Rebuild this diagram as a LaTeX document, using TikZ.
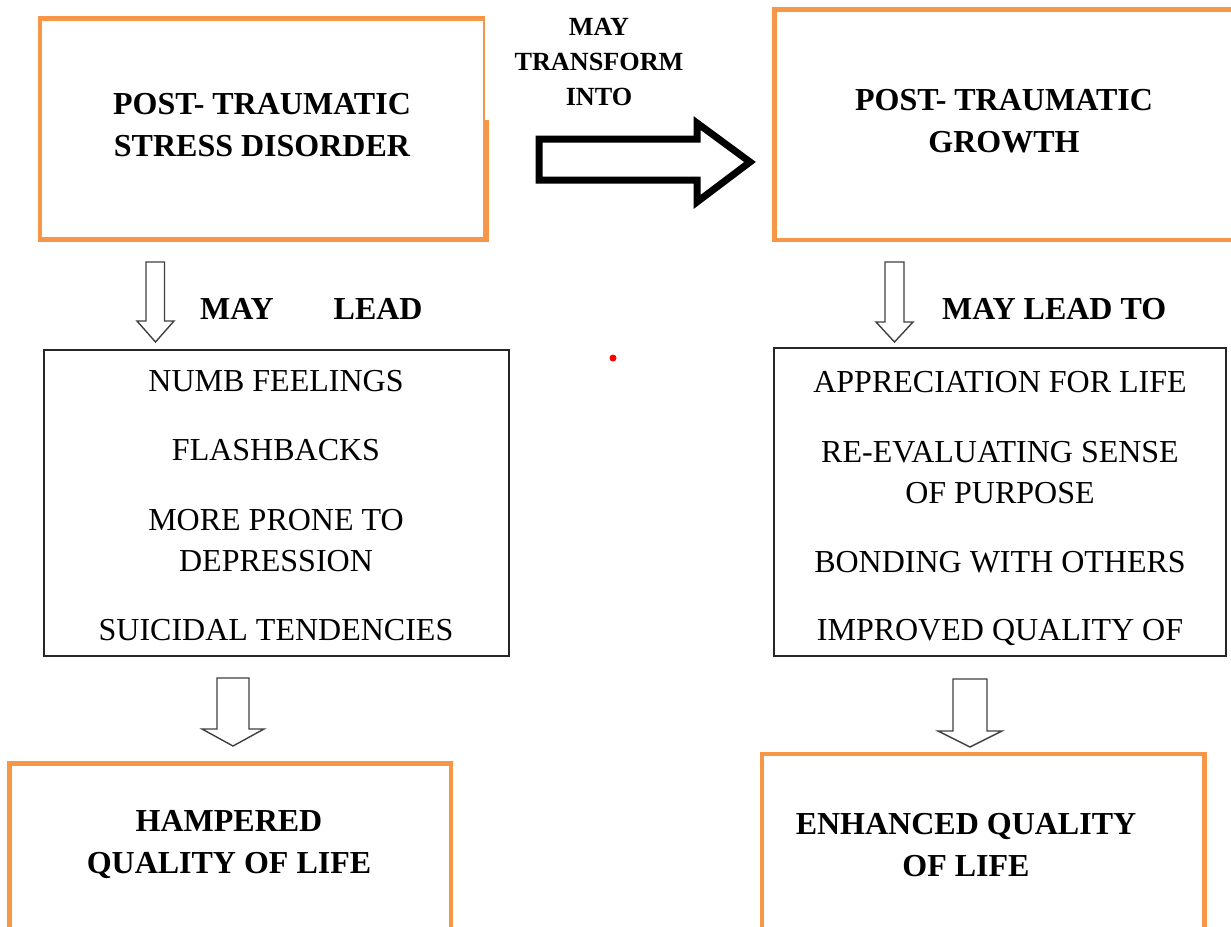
\documentclass[tikz,border=0pt]{standalone}
\usepackage{fontspec}
\setmainfont{Liberation Serif}
\definecolor{boxorange}{HTML}{F79646}
\definecolor{arrowgray}{HTML}{404040}
\begin{document}
\begin{tikzpicture}[x=1pt,y=-1pt,
  obox/.style={draw=boxorange, line width=4.5pt, line join=miter},
  lbox/.style={draw=black!85, line width=1.4pt, inner sep=0pt},
  title/.style={font=\bfseries\fontsize{32}{42}\selectfont, align=center, inner sep=0pt, text depth=0pt},
  small title/.style={font=\bfseries\fontsize{26.2}{35}\selectfont, align=center, inner sep=0pt, text depth=0pt},
  item/.style={font=\fontsize{32}{41}\selectfont, align=center, inner sep=0pt, text depth=0pt},
  thinarrow/.style={draw=arrowgray, line width=1.4pt, fill=white, line join=miter},
  bigarrow/.style={draw=black, line width=7pt, fill=white, line join=miter},
]
\clip (0,0) rectangle (1231,926);
\fill[white] (0,0) rectangle (1231,926);

% top boxes
\draw[obox] (485,18.5) -- (40,18.5) -- (40,239.5) -- (483,239.5);
\draw[boxorange, line width=2.2pt] (484,16.25) -- (484,120);
\draw[boxorange, line width=6pt] (486,120) -- (486,241.75);
\node[title] (ptsd) at (262,125) {POST- TRAUMATIC\\STRESS DISORDER};

\node[obox, minimum width=480pt, minimum height=230.5pt, inner sep=0pt] (ptgbox) at (1014.5,124.75) {};
\node[title] (ptg) at (1004,120.5) {POST- TRAUMATIC\\GROWTH};

% big transform arrow
\draw[bigarrow] (539,139) -- (697,139) -- (697,123) -- (750,162) -- (697,202) -- (697,180) -- (539,180) -- cycle;
\node[small title] (transform) at (599,62) {MAY\\TRANSFORM\\INTO};

% small arrows top
\draw[thinarrow] (146,262) -- (164.5,262) -- (164.5,321) -- (174,321) -- (155.5,342) -- (137,321) -- (146,321) -- cycle;
\node[title, anchor=west] (maylead) at (200,309) {MAY\hspace{60pt}LEAD};

\draw[thinarrow] (885,262) -- (904,262) -- (904,322) -- (913,322) -- (894.5,342) -- (876,322) -- (885,322) -- cycle;
\node[title, anchor=west] (mayleadto) at (942,309) {MAY LEAD TO};

% list boxes
\node[lbox, minimum width=465pt, minimum height=306pt] (leftlist) at (276.5,503) {};
\node[item] (l1) at (276,381) {NUMB FEELINGS};
\node[item] (l2) at (276,450) {FLASHBACKS};
\node[item] (l3) at (276,540.5) {MORE PRONE TO\\DEPRESSION};
\node[item] (l4) at (276,630) {SUICIDAL TENDENCIES};

\node[lbox, minimum width=452pt, minimum height=308pt] (rightlist) at (1000,502) {};
\node[item] (r1) at (1000,382) {APPRECIATION FOR LIFE};
\node[item] (r2) at (1000,472) {RE-EVALUATING SENSE\\OF PURPOSE};
\node[item] (r3) at (1000,562) {BONDING WITH OTHERS};
\node[item] (r4) at (1000,630) {IMPROVED QUALITY OF};

% bottom arrows
\draw[thinarrow] (217,678) -- (249,678) -- (249,729) -- (264,729) -- (233,746) -- (202,729) -- (217,729) -- cycle;
\draw[thinarrow] (953,679) -- (987,679) -- (987,731) -- (1002,731) -- (970,747) -- (938,731) -- (953,731) -- cycle;

% bottom boxes
\node[obox, minimum width=441.5pt, minimum height=200pt, inner sep=0pt] (hampbox) at (230.25,863.5) {};
\node[title] (hamp) at (229,842) {HAMPERED\\QUALITY OF LIFE};

\node[obox, minimum width=442.5pt, minimum height=200pt, inner sep=0pt] (enhbox) at (983.25,854) {};
\node[title] (enh) at (966,844.5) {ENHANCED QUALITY\\OF LIFE};

% red dot
\fill[red] (613,358) circle (3.5pt);
\end{tikzpicture}
\end{document}
